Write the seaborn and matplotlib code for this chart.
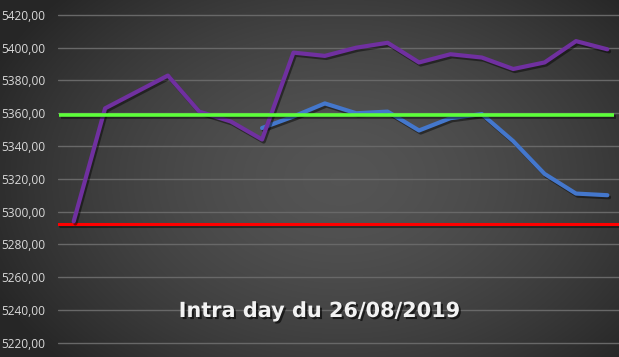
import numpy as np
import pandas as pd
import seaborn as sns
import matplotlib
matplotlib.use("Agg")
import matplotlib.pyplot as plt
import matplotlib.patheffects as pe

# ---- data ----
steps = list(range(18))
cours = [5294, 5363, 5373, 5383, 5361, 5355, 5344, 5397, 5395, 5400,
         5403, 5391, 5396, 5394, 5387, 5391, 5404, 5399]
autre = [np.nan, np.nan, np.nan, np.nan, np.nan, np.nan, 5351, 5358, 5366, 5360,
         5361, 5349.5, 5357, 5359.5, 5343, 5323, 5311, 5310]
niveau_haut = 5359
niveau_bas = 5292.5
yticks = [5220, 5240, 5260, 5280, 5300, 5320, 5340, 5360, 5380, 5400, 5420]
titre = "Intra day du 26/08/2019"

df = pd.DataFrame({"x": steps, "cours": cours, "autre": autre})

sns.set_theme(style="dark")
plt.rcParams['font.family'] = ['Open Sans', 'DejaVu Sans']

W, H = 619, 357
fig = plt.figure(figsize=(W / 100, H / 100), dpi=100)

# background radial gradient
bg = fig.add_axes([0, 0, 1, 1])
yy, xx = np.mgrid[0:H, 0:W]
cx, cy = W * 0.55, H * 0.5
r = np.sqrt(((xx - cx) / (W * 0.62)) ** 2 + ((yy - cy) / (H * 0.75)) ** 2)
r = np.clip(r, 0, 1)
v = 0.33 - 0.18 * r ** 1.6
bg.imshow(np.dstack([v, v, v]), aspect="auto", extent=[0, 1, 0, 1], origin="upper")
bg.axis("off")

ax = fig.add_axes([58 / W, 0.0216, 1 - 58 / W, 0.955])
ax.set_facecolor("none")
ax.set_xlim(-0.5, 17.37)
ax.set_ylim(5216, 5424)

for t in yticks:
    ax.axhline(t, color="#686868", lw=1.0, zorder=1)

shadow = [pe.SimpleLineShadow(offset=(1.2, -1.5), alpha=0.45, shadow_color="black"), pe.Normal()]

ax.axhline(niveau_bas, color="#ff0000", lw=2.2, zorder=2, path_effects=shadow)
ax.plot([-0.47, 17.22], [niveau_haut, niveau_haut], color="#5dff3a", lw=2.6, zorder=5,
        solid_capstyle="butt", path_effects=shadow)

sns.lineplot(data=df, x="x", y="autre", ax=ax, color="#4477cc", lw=3.0, zorder=3,
             path_effects=shadow)
sns.lineplot(data=df, x="x", y="cours", ax=ax, color="#7030a0", lw=3.0, zorder=4,
             path_effects=shadow)

ax.set_yticks(yticks)
ax.set_yticklabels([f"{t},00" for t in yticks])
ax.tick_params(axis="y", colors="#d9d9d9", labelsize=8.6, length=0, pad=9)
ax.set_xticks([])
ax.set_xlabel("")
ax.set_ylabel("")
for s in ax.spines.values():
    s.set_visible(False)
ax.grid(False)

fig.text(319.5 / W, 1 - 311 / H, titre, color="#f2f2f2", fontsize=15, fontweight="bold",
         family="DejaVu Sans", ha="center", va="center",
         path_effects=[pe.withSimplePatchShadow(offset=(1.5, -1.5), shadow_rgbFace="black", alpha=0.6)])

fig.savefig("out.png", dpi=100)
